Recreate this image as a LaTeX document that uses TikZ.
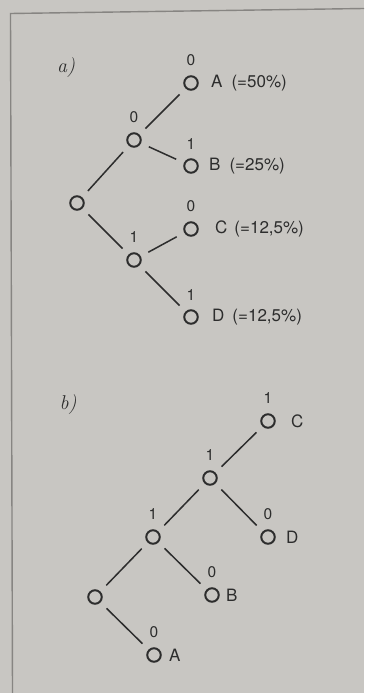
\documentclass[tikz,border=0pt]{standalone}
\usepackage{fontspec}
\newfontfamily\heros{TeX Gyre Heros}
\definecolor{paper}{RGB}{200,198,194}
\definecolor{ink}{RGB}{45,45,45}
\definecolor{framec}{RGB}{135,133,130}
\begin{document}
\begin{tikzpicture}[x=1pt,y=-1pt,
  nd/.style={circle,draw=ink,line width=2pt,minimum size=13.5pt,inner sep=0pt},
  edge/.style={draw=ink,line width=1.5pt,shorten >=8.5pt,shorten <=8.5pt},
  bit/.style={text=ink,font=\heros\fontsize{15.5}{15.5}\selectfont,inner sep=0pt},
  leaflbl/.style={text=ink,font=\heros\fontsize{17}{17}\selectfont,inner sep=0pt,anchor=west},
  partlbl/.style={text=ink,font=\fontsize{20}{20}\selectfont\itshape,inner sep=0pt}]
\fill[paper] (0,0) rectangle (364,693);
\useasboundingbox (0,0) rectangle (364,693);
\draw[framec,line width=1.4pt] (12.5,693) -- (10.5,13.5) -- (364,8.5);

% ---------- part a
\node[partlbl] (pa) at (66,68) {a)};
\node[nd] (ar) at (77,203) {};
\node[nd] (at) at (134,140) {};
\node[nd] (ab) at (134,260) {};
\node[nd] (aA) at (191,83) {};
\node[nd] (aB) at (191,166) {};
\node[nd] (aC) at (191,229) {};
\node[nd] (aD) at (191,317) {};
\node[bit] (lat) at (134,117) {0};
\node[bit] (lab) at (134,237) {1};
\node[bit] (laA) at (191,60) {0};
\node[bit] (laB) at (191,144) {1};
\node[bit] (laC) at (191,206) {0};
\node[bit] (laD) at (191,295) {1};
\node[leaflbl] (tA) at (211,83) {A\hspace{9pt}(=50\%)};
\node[leaflbl] (tB) at (209,166) {B\hspace{9pt}(=25\%)};
\node[leaflbl] (tC) at (215,229) {C\hspace{7pt}(=12,5\%)};
\node[leaflbl] (tD) at (212,317) {D\hspace{8pt}(=12,5\%)};
\draw[edge] (ar) -- (at);
\draw[edge] (ar) -- (ab);
\draw[edge] (at) -- (aA);
\draw[edge] (at) -- (aB);
\draw[edge] (ab) -- (aC);
\draw[edge] (ab) -- (aD);

% ---------- part b
\node[partlbl] (pb) at (68,405) {b)};
\node[nd] (bC) at (268,421) {};
\node[nd] (b1) at (210,478) {};
\node[nd] (b2) at (153,537) {};
\node[nd] (bD) at (268,537) {};
\node[nd] (br) at (95,597) {};
\node[nd] (bB) at (212,595) {};
\node[nd] (bA) at (154,655) {};
\node[bit] (lbC) at (268,398) {1};
\node[bit] (lb1) at (210,455) {1};
\node[bit] (lb2) at (153,514) {1};
\node[bit] (lbD) at (268,514) {0};
\node[bit] (lbB) at (212,572) {0};
\node[bit] (lbA) at (154,632) {0};
\node[leaflbl] (tbC) at (291,421) {C};
\node[leaflbl] (tbD) at (286,537) {D};
\node[leaflbl] (tbB) at (226,595) {B};
\node[leaflbl] (tbA) at (169,655) {A};
\draw[edge] (bC) -- (b1);
\draw[edge] (b1) -- (b2);
\draw[edge] (b1) -- (bD);
\draw[edge] (b2) -- (br);
\draw[edge] (b2) -- (bB);
\draw[edge] (br) -- (bA);
\end{tikzpicture}
\end{document}
